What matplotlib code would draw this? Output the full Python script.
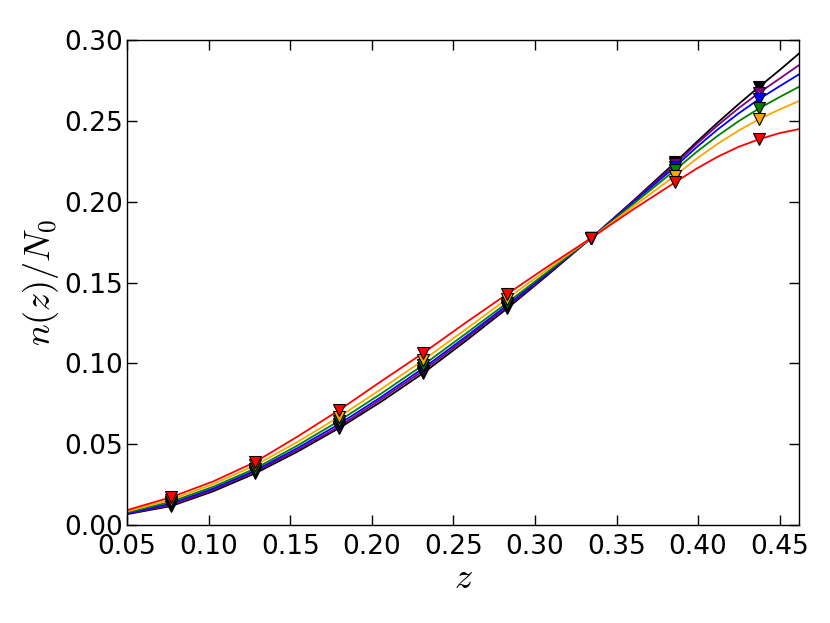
import matplotlib
matplotlib.use("Agg")
import matplotlib.pyplot as plt

# z grid for the curves, and marker positions (bin centres)
z_line = [0.05, 0.0770, 0.1027, 0.1285, 0.1542, 0.1800, 0.2057, 0.2315, 0.2572,
          0.2830, 0.3087, 0.3345, 0.3602, 0.3860, 0.3989, 0.4117, 0.4246, 0.4375,
          0.4497, 0.462]
z_mark = [0.0770, 0.1285, 0.1800, 0.2315, 0.2830, 0.3345, 0.3860, 0.4375]

black = [0.0068, 0.0118, 0.0209, 0.0320, 0.0453, 0.0600, 0.0763, 0.0940, 0.1136,
         0.1340, 0.1554, 0.1775, 0.2005, 0.2243, 0.2367, 0.2486, 0.2601, 0.2711,
         0.2811, 0.2917]
purple = [0.0070, 0.0125, 0.0218, 0.0330, 0.0463, 0.0610, 0.0778, 0.0955, 0.1150,
          0.1350, 0.1561, 0.1775, 0.2001, 0.2231, 0.2355, 0.2469, 0.2576, 0.2674,
          0.2759, 0.2845]
blue = [0.0072, 0.0135, 0.0226, 0.0338, 0.0475, 0.0625, 0.0792, 0.0970, 0.1162,
        0.1360, 0.1566, 0.1775, 0.1995, 0.2216, 0.2335, 0.2444, 0.2544, 0.2635,
        0.2712, 0.2788]
green = [0.0078, 0.0145, 0.0237, 0.0350, 0.0491, 0.0645, 0.0813, 0.0990, 0.1181,
         0.1375, 0.1573, 0.1775, 0.1985, 0.2196, 0.2306, 0.2405, 0.2496, 0.2577,
         0.2645, 0.2711]
orange = [0.0085, 0.0158, 0.0253, 0.0370, 0.0513, 0.0670, 0.0841, 0.1020, 0.1208,
          0.1400, 0.1588, 0.1775, 0.1970, 0.2161, 0.2264, 0.2356, 0.2438, 0.2510,
          0.2569, 0.2623]
red = [0.0093, 0.0173, 0.0270, 0.0390, 0.0546, 0.0711, 0.0889, 0.1064, 0.1249,
       0.1429, 0.1605, 0.1775, 0.1952, 0.2120, 0.2203, 0.2276, 0.2338, 0.2386,
       0.2423, 0.2449]

series = [("black", black), ("purple", purple), ("blue", blue),
          ("green", green), ("orange", orange), ("red", red)]

xticks = [0.05, 0.10, 0.15, 0.20, 0.25, 0.30, 0.35, 0.40, 0.45]
yticks = [0.00, 0.05, 0.10, 0.15, 0.20, 0.25, 0.30]

plt.rcParams['mathtext.fontset'] = 'cm'
plt.rcParams['font.family'] = ['DejaVu Sans']

fig = plt.figure(figsize=(8.3, 6.23), dpi=100)
ax = fig.add_axes([0.153, 0.157, 0.810, 0.779])

for color, vals in series:
    ax.plot(z_line, vals, color=color, lw=1.3, zorder=2,
            solid_joinstyle='round')
for color, vals in series:
    mvals = [vals[z_line.index(z)] for z in z_mark]
    ax.plot(z_mark, mvals, linestyle='none', marker='v', markersize=8.5,
            markerfacecolor=color, markeredgecolor='black', markeredgewidth=0.8,
            zorder=3)

ax.set_xlim(0.05, 0.462)
ax.set_ylim(0.0, 0.30)
ax.set_xticks(xticks)
ax.set_yticks(yticks)
ax.set_xticklabels([f"{t:.2f}" for t in xticks])
ax.set_yticklabels([f"{t:.2f}" for t in yticks])
ax.tick_params(direction='in', top=True, right=True, length=7, width=1,
               labelsize=19)
ax.tick_params(axis='x', pad=6)
ax.tick_params(axis='y', pad=3)
for s in ax.spines.values():
    s.set_linewidth(1.0)

ax.set_xlabel(r"$z$", fontsize=26, labelpad=1)
ax.set_ylabel(r"$n(z)/N_0$", fontsize=26, labelpad=2)

fig.savefig("out.png", dpi=100)
